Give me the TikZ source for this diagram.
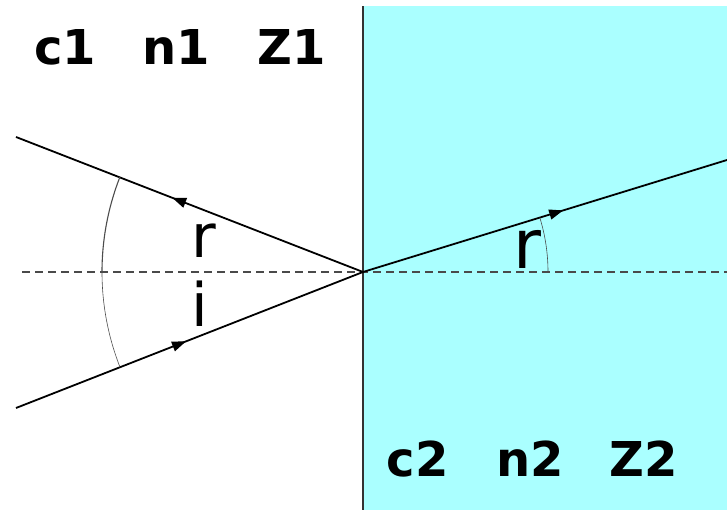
\documentclass[tikz,border=0pt]{standalone}
\usepackage{fontspec}
\setmainfont{DejaVu Sans}
\usepackage{xcolor}
\usetikzlibrary{arrows.meta,decorations.markings}
\definecolor{medium}{HTML}{AAFFFF}
\definecolor{normalgray}{HTML}{4A4A4A}
\definecolor{wallgray}{HTML}{333333}
\begin{document}
\begin{tikzpicture}[x=1pt,y=1pt,every node/.style={inner sep=0pt},media/.style={font=\fontsize{48}{58}\selectfont\bfseries,anchor=base},angle/.style={font=\fontsize{#1}{#1}\selectfont,anchor=base},ray/.style={line width=1.8pt,black},tipat/.style={postaction=decorate,decoration={markings,mark=at position #1 with {\arrow{Triangle[length=14pt,width=10pt]}}}},anglearc/.style={line width=#1,black!70}]
\useasboundingbox (0,0) rectangle (727,510);
\fill[medium] (363,0) rectangle (727,504);
% interface and normal
\coordinate (o) at (363,238);
\coordinate (wb) at (363,0); \coordinate (wt) at (363,504);
\coordinate (nl) at (22,238); \coordinate (nr) at (727,238);
\draw[line width=1.6pt,wallgray] (wb)--(wt);
\draw[normalgray,line width=1.6pt,dash pattern=on 8pt off 5pt] (nl)--(nr);
% rays
\coordinate (inc) at (16,102);
\coordinate (refl) at (16,373);
\coordinate (refr) at (727,350);
\draw[ray,tipat=0.49] (inc)--(o);
\draw[ray,tipat=0.55] (o)--(refl);
\draw[ray,tipat=0.55] (o)--(refr);
% angles
\draw[anglearc=1.1pt] (o) ++(158.7:261) arc[start angle=158.7,end angle=180,radius=261];
\draw[anglearc=0.6pt] (o) ++(180:261) arc[start angle=180,end angle=201.4,radius=261];
\draw[anglearc=0.6pt] (o) ++(0:185) arc[start angle=0,end angle=17.1,radius=185];
\node[angle=60] (r1) at (203.5,252) {r};
\node[angle=60] (i1) at (199.5,183) {i};
\node[angle=68] (r2) at (527,241) {r};
% media labels
\node[media] (c1) at (65,445) {c1};
\node[media] (n1) at (176.5,445) {n1};
\node[media] (z1) at (292,445) {Z1};
\node[media] (c2) at (417.5,33) {c2};
\node[media] (n2) at (530,33) {n2};
\node[media] (z2) at (644,33) {Z2};
\end{tikzpicture}
\end{document}
